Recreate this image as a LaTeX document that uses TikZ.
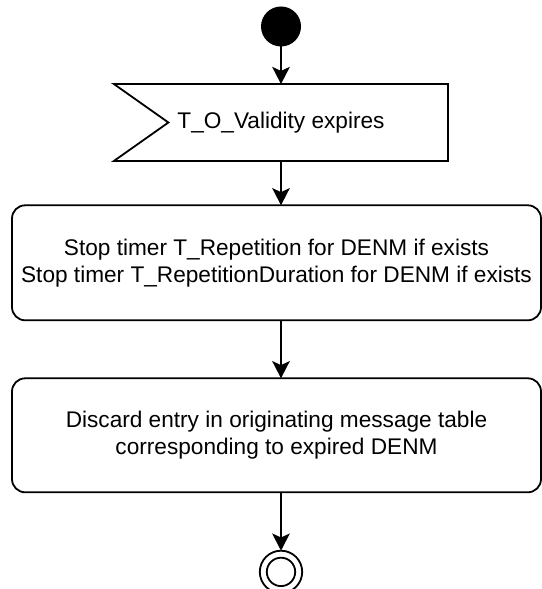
\documentclass[tikz,border=0pt]{standalone}
\usepackage{fontspec}
\setmainfont{Liberation Sans}
\usepackage{tikz}
\usepackage{xcolor}
\usetikzlibrary{arrows.meta, positioning, calc}
\definecolor{strokeBlack}{RGB}{0,0,0}
\tikzset{
    startdot/.style={
        circle,
        fill=strokeBlack,
        minimum size=1cm,
        inner sep=0pt,
        outer sep=0pt
    },
    eventbox/.style={
        rectangle,
        align=center,
        minimum width=8.35cm,
        minimum height=1.92cm,
        inner sep=0pt,
        outer sep=0pt,
        font=\fontsize{16.1}{19}\selectfont
    },
    actbox/.style={
        rectangle,
        draw=strokeBlack,
        rounded corners=0.33cm,
        align=center,
        minimum width=13.225cm,
        inner sep=0pt,
        outer sep=0pt,
        font=\fontsize{16.1}{19}\selectfont
    },
    finring/.style={
        circle,
        draw=strokeBlack,
        minimum size=1.06cm,
        inner sep=0pt,
        outer sep=0pt,
        path picture={\draw[strokeBlack] (path picture bounding box.center) circle (0.355cm);}
    },
    flowarrow/.style={-{Stealth[length=0.43cm, width=0.44cm, inset=0.1cm]}, draw=strokeBlack}
}

\begin{document}
\begin{tikzpicture}[line width=0.045cm, node distance=1.0cm]
    \useasboundingbox (0,0) rectangle (13.55,-14.725);
    \node[startdot] (start) at (7.025,-0.6625) {};
    \node[eventbox, below=0.94cm of start] (expiry) {T\_O\_Validity expires};
    \draw[strokeBlack] (expiry.north west) -- (expiry.north east) -- (expiry.south east)
        -- (expiry.south west) -- ($(expiry.west)+(1.36cm,0)$) -- cycle;
    \node[actbox, minimum height=2.875cm, below=1.11cm of expiry, xshift=-0.1125cm] (stoptimers)
        {Stop timer T\_Repetition for DENM if exists\\Stop timer T\_RepetitionDuration for DENM if exists};
    \node[actbox, minimum height=2.85cm, below=1.45cm of stoptimers] (discard)
        {Discard entry in originating message table\\corresponding to expired DENM};
    \node[finring, below=1.46cm of discard, xshift=0.1125cm] (final) {};
    \draw[flowarrow] (start) -- (expiry);
    \draw[flowarrow] (expiry) -- (expiry |- stoptimers.north);
    \draw[flowarrow] (expiry |- stoptimers.south) -- (expiry |- discard.north);
    \draw[flowarrow] (final |- discard.south) -- (final);
\end{tikzpicture}
\end{document}
